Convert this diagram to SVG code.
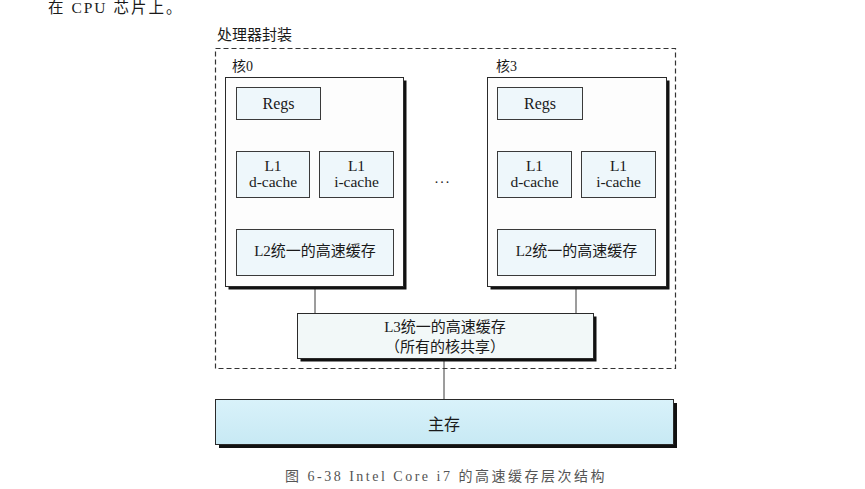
<svg xmlns="http://www.w3.org/2000/svg" width="865" height="489" viewBox="0 0 865 489">
<style>
  text { font-family: 'Liberation Serif', 'Noto Sans CJK SC', serif; fill: #1a1a1a; }
  .c { text-anchor: middle; }
  .lbl { font-size: 15.5px; }
  .cjk { font-size: 15px; }
  .small { stroke: #3a3a3a; stroke-width: 1; fill: #eef7fb; }
  .core { stroke: #2a2a2a; stroke-width: 1; fill: #fdfdfd; }
  .shadow { fill: #111; }
  .conn line { stroke: #3a3a3a; stroke-width: 1; }
</style>
<defs>
  <linearGradient id="mem" x1="0" y1="0" x2="0" y2="1">
    <stop offset="0" stop-color="#d9f2fa"/>
    <stop offset="1" stop-color="#c7e9f4"/>
  </linearGradient>
</defs>
<rect width="865" height="489" fill="#ffffff"/>

<text x="48" y="12.5" style="font-size:15.5px;letter-spacing:2px">在 CPU 芯片上。</text>

<g id="package">
  <rect x="215.5" y="48.5" width="460" height="320" fill="none" stroke="#333" stroke-width="1.2" stroke-dasharray="5,3"/>
  <text x="217" y="40" class="cjk">处理器封装</text>
</g>

<g class="conn" id="connectors">
  <line x1="278" y1="119" x2="278" y2="151"/>
  <line x1="278" y1="197" x2="278" y2="229"/>
  <line x1="355" y1="197" x2="355" y2="229"/>
  <line x1="539" y1="119" x2="539" y2="151"/>
  <line x1="539" y1="197" x2="539" y2="229"/>
  <line x1="617" y1="197" x2="617" y2="229"/>
  <line x1="315" y1="275" x2="315" y2="313"/>
  <line x1="576" y1="275" x2="576" y2="313"/>
  <line x1="444" y1="358" x2="444" y2="399"/>
</g>

<g id="core0">
  <text x="232" y="71" style="font-size:14px">核0</text>
  <rect x="228.5" y="80.5" width="178" height="209" class="shadow"/>
  <rect x="225.5" y="77.5" width="178" height="209" class="core"/>
</g>
<g id="core0-regs">
  <rect x="236.5" y="87.5" width="84" height="32" class="small"/>
  <text x="278.5" y="108.5" class="c" style="font-size:16px">Regs</text>
</g>
<g id="core0-l1d">
  <rect x="236.5" y="151.5" width="73" height="46" class="small"/>
  <text x="273" y="171" class="c lbl">L1</text>
  <text x="273" y="187" class="c lbl">d-cache</text>
</g>
<g id="core0-l1i">
  <rect x="319.5" y="151.5" width="74" height="46" class="small"/>
  <text x="356.5" y="171" class="c lbl">L1</text>
  <text x="356.5" y="187" class="c lbl">i-cache</text>
</g>
<g id="core0-l2">
  <rect x="236.5" y="229.5" width="157" height="46" class="small"/>
  <text x="315" y="256" class="c cjk">L2统一的高速缓存</text>
</g>

<text x="443" y="183" class="c" style="font-size:14px;letter-spacing:2px">...</text>

<g id="core3">
  <text x="496" y="71" style="font-size:14px">核3</text>
  <rect x="490.5" y="80.5" width="179" height="209" class="shadow"/>
  <rect x="487.5" y="77.5" width="179" height="209" class="core"/>
</g>
<g id="core3-regs">
  <rect x="497.5" y="87.5" width="85" height="32" class="small"/>
  <text x="540" y="108.5" class="c" style="font-size:16px">Regs</text>
</g>
<g id="core3-l1d">
  <rect x="497.5" y="151.5" width="74" height="46" class="small"/>
  <text x="534.5" y="171" class="c lbl">L1</text>
  <text x="534.5" y="187" class="c lbl">d-cache</text>
</g>
<g id="core3-l1i">
  <rect x="581.5" y="151.5" width="74" height="46" class="small"/>
  <text x="618.5" y="171" class="c lbl">L1</text>
  <text x="618.5" y="187" class="c lbl">i-cache</text>
</g>
<g id="core3-l2">
  <rect x="497.5" y="229.5" width="158" height="46" class="small"/>
  <text x="576.5" y="256" class="c cjk">L2统一的高速缓存</text>
</g>

<g id="l3">
  <rect x="300.5" y="316.5" width="296" height="45" class="shadow"/>
  <rect x="297.5" y="313.5" width="296" height="45" stroke="#2a2a2a" stroke-width="1" fill="#f2f8f8"/>
  <text x="445" y="332" class="c cjk">L3统一的高速缓存</text>
  <text x="445" y="352" class="c cjk">（所有的核共享）</text>
</g>

<g id="mainmem">
  <rect x="219" y="403" width="458" height="45" class="shadow"/>
  <rect x="215.5" y="399.5" width="458" height="45" stroke="#2a2a2a" stroke-width="1" fill="url(#mem)"/>
  <text x="444" y="430" class="c" style="font-size:16px">主存</text>
</g>

<text x="446" y="481" class="c" style="font-size:14px;fill:#555;letter-spacing:2.5px">图 6-38  Intel Core i7 的高速缓存层次结构</text>
</svg>
